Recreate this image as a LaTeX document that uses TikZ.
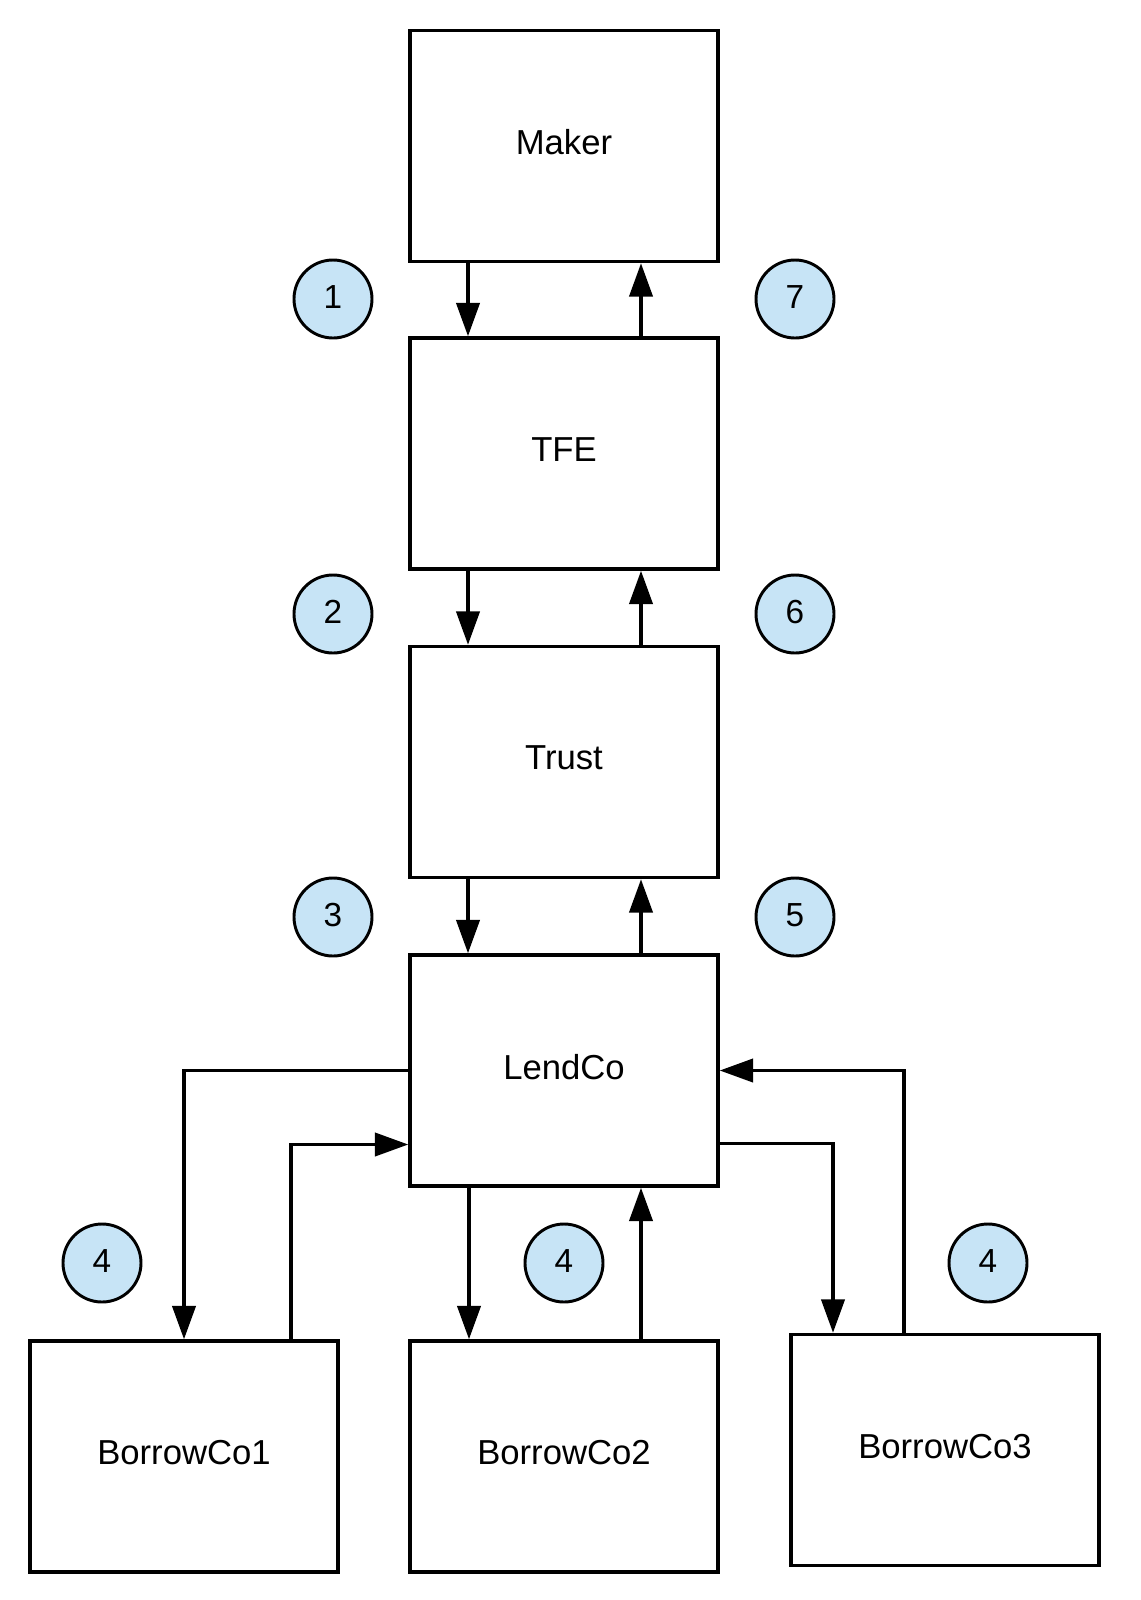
\documentclass[tikz,border=0pt]{standalone}
\usepackage{fontspec}
\setmainfont{Liberation Sans}
\usetikzlibrary{arrows.meta,calc}
\definecolor{circfill}{RGB}{199,228,246}
\begin{document}
\begin{tikzpicture}[x=0.75pt,y=-0.75pt,
  box/.style={draw=black, line width=2.7pt, fill=white, rectangle,
    minimum width=231pt, minimum height=173.25pt, inner sep=0pt,
    font=\fontsize{26pt}{30pt}\selectfont, text depth=6pt},
  circ/.style={draw=black, line width=2.2pt, fill=circfill, circle,
    minimum size=58.5pt, inner sep=0pt, font=\fontsize{25pt}{29pt}\selectfont,
    text depth=3pt},
  arr/.style={draw=black, line width=2.3pt, -{Triangle[length=25pt,width=17.5pt]}},
  lin/.style={draw=black, line width=2.3pt}
]
\useasboundingbox[fill=white] (0,0) rectangle (1141,1600);

% boxes
\node[box] (maker)  at (564,146)    {Maker};
\node[box] (tfe)    at (564,453.5)  {TFE};
\node[box] (trust)  at (564,762)    {Trust};
\node[box] (lendco) at (564,1070.5) {LendCo};
\node[box] (bc1)    at (184,1456.5) {BorrowCo1};
\node[box] (bc2)    at (564,1456.5) {BorrowCo2};
\node[box] (bc3)    at (945,1450)   {BorrowCo3};

% numbered circles
\node[circ] (c1) at (333,299) {1};
\node[circ] (c7) at (795,299) {7};
\node[circ] (c2) at (333,614) {2};
\node[circ] (c6) at (795,614) {6};
\node[circ] (c3) at (333,917) {3};
\node[circ] (c5) at (795,917) {5};
\node[circ] (c4a) at (102,1263) {4};
\node[circ] (c4b) at (564,1263) {4};
\node[circ] (c4c) at (988,1263) {4};

% vertical chain
\draw[arr] ($(maker.south)+(-96,0)$) -- ($(tfe.north)+(-96,0)$);
\draw[arr] ($(tfe.north)+(77,0)$) -- ($(maker.south)+(77,0)$);
\draw[arr] ($(tfe.south)+(-96,0)$) -- ($(trust.north)+(-96,0)$);
\draw[arr] ($(trust.north)+(77,0)$) -- ($(tfe.south)+(77,0)$);
\draw[arr] ($(trust.south)+(-96,0)$) -- ($(lendco.north)+(-96,0)$);
\draw[arr] ($(lendco.north)+(77,0)$) -- ($(trust.south)+(77,0)$);

% LendCo <-> BorrowCo2
\draw[arr] ($(lendco.south)+(-95,0)$) -- ($(bc2.north)+(-95,0)$);
\draw[arr] ($(bc2.north)+(77,0)$) -- ($(lendco.south)+(77,0)$);

% LendCo <-> BorrowCo1
\draw[arr] (lendco.west) -| (bc1.north);
\draw[arr] ($(bc1.north)+(107,0)$) |- ($(lendco.west)+(0,74)$);

% LendCo <-> BorrowCo3
\draw[arr] ($(lendco.east)+(0,73)$) -| ($(bc3.north)+(-112,0)$);
\draw[arr] ($(bc3.north)+(-41,0)$) |- (lendco.east);
\end{tikzpicture}
\end{document}
